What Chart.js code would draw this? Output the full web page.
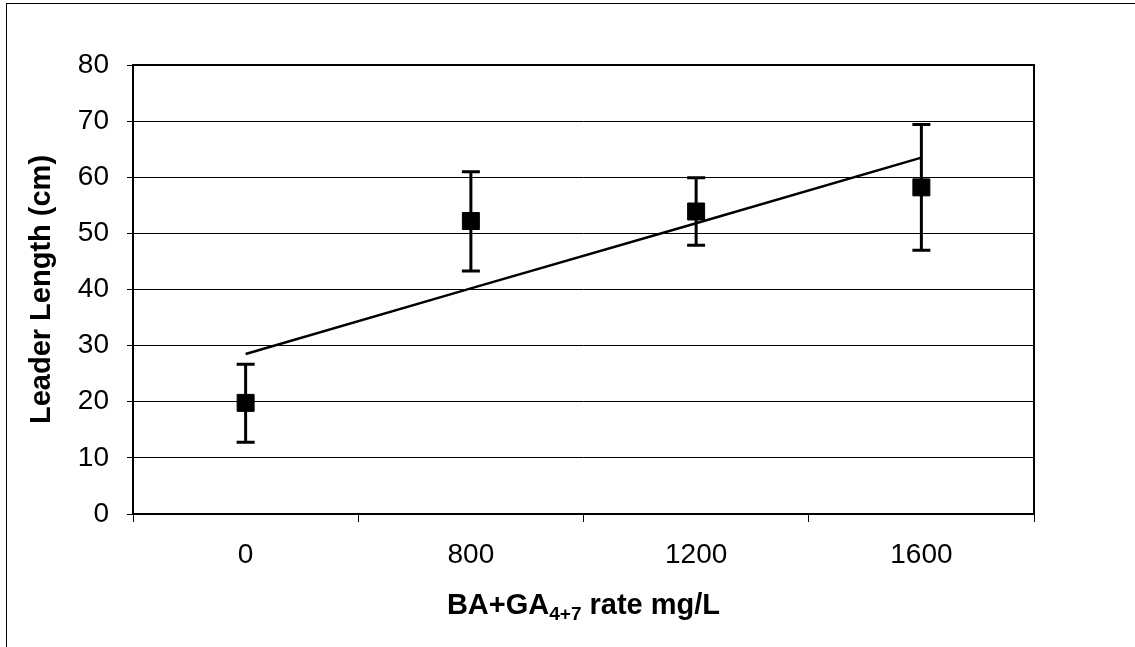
<!DOCTYPE html>
<html>
<head>
<meta charset="utf-8">
<script src="https://cdn.jsdelivr.net/npm/chart.js@4.4.1/dist/chart.umd.min.js"></script>
<style>
    body { margin: 0; background: #fff; }
    canvas { display: block; }
</style>
</head>
<body>
<canvas id="chart" width="1135" height="647"></canvas>
<script>
// Data
const rates = ['0', '800', '1200', '1600'];
const leaderLength = [19.8, 52.2, 53.9, 58.2];
const errLow = [12.8, 43.3, 47.9, 47.0];
const errHigh = [26.7, 61.0, 59.9, 69.4];
const trendLine = [28.5, 40.2, 51.8, 63.5];
const yTicks = [0, 10, 20, 30, 40, 50, 60, 70, 80];

const FONT = '"Liberation Sans", Arial, sans-serif';

// Outer frame and thick plot-area border
const framePlugin = {
    id: 'frame',
    beforeDraw(chart) {
        const c = chart.ctx;
        c.save();
        c.fillStyle = '#fff';
        c.fillRect(0, 0, chart.width, chart.height);
        c.strokeStyle = '#000';
        c.lineWidth = 1;
        c.strokeRect(6.5, 3.5, chart.width + 20, chart.height + 20);
        c.restore();
    },
    afterDatasetsDraw(chart) {
        const a = chart.chartArea;
        const c = chart.ctx;
        c.save();
        c.strokeStyle = '#000';
        c.lineWidth = 2;
        c.strokeRect(a.left, a.top, a.right - a.left, a.bottom - a.top);
        c.restore();
    }
};

// Vertical error bars with caps
const errorBarPlugin = {
    id: 'errorBars',
    beforeDatasetsDraw(chart) {
        const x = chart.scales.x;
        const y = chart.scales.y;
        const c = chart.ctx;
        c.save();
        c.strokeStyle = '#000';
        c.lineWidth = 3;
        rates.forEach((r, i) => {
            const px = x.getPixelForValue(i);
            const top = y.getPixelForValue(errHigh[i]);
            const bot = y.getPixelForValue(errLow[i]);
            c.beginPath();
            c.moveTo(px, top);
            c.lineTo(px, bot);
            c.moveTo(px - 9, top);
            c.lineTo(px + 9, top);
            c.moveTo(px - 9, bot);
            c.lineTo(px + 9, bot);
            c.stroke();
        });
        c.restore();
    }
};

// X axis title with subscript
const xTitlePlugin = {
    id: 'xTitle',
    afterDraw(chart) {
        const c = chart.ctx;
        const a = chart.chartArea;
        const parts = [
            { t: 'BA+GA', f: 'bold 29px ' + FONT, dy: 0 },
            { t: '4+7', f: 'bold 19px ' + FONT, dy: 6 },
            { t: ' rate mg/L', f: 'bold 29px ' + FONT, dy: 0 }
        ];
        let total = 0;
        parts.forEach(p => { c.font = p.f; p.w = c.measureText(p.t).width; total += p.w; });
        let x = (a.left + a.right) / 2 - total / 2;
        const base = 614;
        c.save();
        c.fillStyle = '#000';
        c.textBaseline = 'alphabetic';
        c.textAlign = 'left';
        parts.forEach(p => {
            c.font = p.f;
            c.fillText(p.t, x, base + p.dy);
            x += p.w;
        });
        c.restore();
    }
};

const ctx = document.getElementById('chart');
new Chart(ctx.getContext('2d'), {
    data: {
        labels: rates,
        datasets: [{
            type: 'line',
            label: 'Trend',
            data: trendLine,
            borderColor: '#000',
            borderWidth: 2.5,
            pointRadius: 0,
            fill: false,
            tension: 0,
            order: 2
        }, {
            type: 'line',
            label: 'Leader length',
            data: leaderLength,
            showLine: false,
            pointStyle: 'rect',
            pointRadius: 12,
            pointBackgroundColor: '#000',
            pointBorderColor: '#000',
            pointBorderWidth: 1,
            order: 1
        }]
    },
    options: {
        responsive: false,
        devicePixelRatio: 1,
        animation: false,
        layout: { padding: { top: 65, right: 101, bottom: 0, left: 0 } },
        plugins: {
            legend: { display: false },
            tooltip: { enabled: false }
        },
        scales: {
            x: {
                type: 'category',
                offset: true,
                grid: {
                    offset: true,
                    drawOnChartArea: false,
                    drawTicks: true,
                    tickLength: 8,
                    color: '#000',
                    lineWidth: 1
                },
                border: { display: false },
                ticks: {
                    color: '#000',
                    padding: 16,
                    maxRotation: 0,
                    font: { family: FONT, size: 28 }
                },
                afterFit(scale) { scale.height = 133; }
            },
            y: {
                min: 0,
                max: 80,
                afterBuildTicks(scale) { scale.ticks = yTicks.map(v => ({ value: v })); },
                grid: {
                    color: '#000',
                    lineWidth: 1,
                    tickLength: 6
                },
                border: { display: false },
                ticks: {
                    color: '#000',
                    padding: 18,
                    font: { family: FONT, size: 28 }
                },
                title: {
                    display: true,
                    text: 'Leader Length (cm)',
                    color: '#000',
                    font: { family: FONT, size: 29, weight: 'bold' },
                    padding: { top: 25, bottom: 0 }
                },
                afterFit(scale) { scale.width = 133; }
            }
        }
    },
    plugins: [framePlugin, errorBarPlugin, xTitlePlugin]
});
</script>
</body>
</html>
